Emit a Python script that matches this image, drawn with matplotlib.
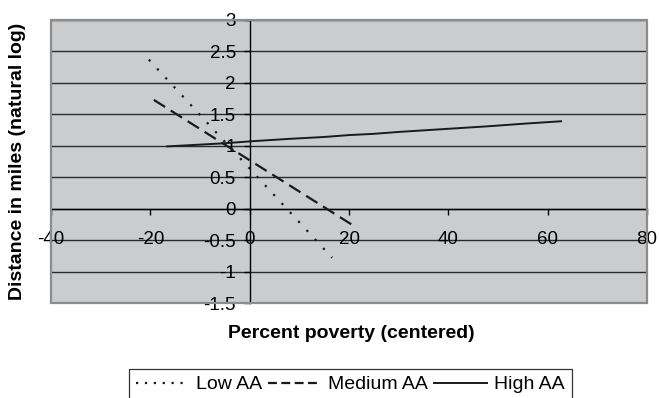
import matplotlib
matplotlib.use("Agg")
import matplotlib.pyplot as plt
from matplotlib.patches import Rectangle

plt.rcParams['font.family'] = ['Liberation Sans', 'DejaVu Sans']

# Data
low_x = [-20.3, 16.6]
low_y = [2.37, -0.78]
med_x = [-19.3, 20.9]
med_y = [1.73, -0.27]
high_x = [-16.6, -5, 0, 8, 15, 20, 25, 30, 40, 48, 55, 62.7]
high_y = [0.99, 1.04, 1.07, 1.11, 1.14, 1.17, 1.19, 1.22, 1.27, 1.31, 1.35, 1.39]
labels = ["Low AA", "Medium AA", "High AA"]
xticks = [-40, -20, 0, 20, 40, 60, 80]
yticks = [-1.5, -1, -0.5, 0, 0.5, 1, 1.5, 2, 2.5, 3]
ytick_labels = ["-1.5", "-1", "-0.5", "0", "0.5", "1", "1.5", "2", "2.5", "3"]

fig = plt.figure(figsize=(6.59, 3.98), dpi=100)
W, H = 659, 398
left, right, top, bottom = 51, 647, 20, 303
ax = fig.add_axes([left / W, 1 - bottom / H, (right - left) / W, (bottom - top) / H])
ax.set_facecolor('#cbcccd')
ax.set_xlim(-40, 80)
ax.set_ylim(-1.5, 3)

for y in yticks:
    ax.axhline(y, color='#2a2a2a', lw=1.0, zorder=1)

ax.spines['top'].set_visible(False)
ax.spines['right'].set_visible(False)
ax.spines['left'].set_position(('data', 0))
ax.spines['bottom'].set_position(('data', 0))
ax.spines['left'].set_color('black')
ax.spines['bottom'].set_color('black')
ax.spines['left'].set_linewidth(1.0)
ax.spines['bottom'].set_linewidth(1.0)
ax.spines['left'].set_zorder(2)
ax.spines['bottom'].set_zorder(2)

ax.add_patch(Rectangle((0, 0), 1, 1, transform=ax.transAxes, fill=False,
                       edgecolor='#8c8c8c', lw=1.6, zorder=5, clip_on=False))

ax.set_xticks(xticks)
ax.set_xticklabels([str(v) for v in xticks])
ax.set_yticks(yticks)
ax.set_yticklabels(ytick_labels)
ax.tick_params(axis='x', direction='out', length=4, width=1, pad=12, labelsize=13.5, colors='black')
ax.tick_params(axis='y', direction='out', length=4, width=1, pad=6, labelsize=13.5, colors='black')

l1, = ax.plot(low_x, low_y, color='#1a1a1a', lw=1.6, linestyle=(0, (1, 4.5)), label=labels[0], zorder=3)
l2, = ax.plot(med_x, med_y, color='#1a1a1a', lw=1.6, linestyle=(0, (6, 3)), label=labels[1], zorder=3)
l3, = ax.plot(high_x, high_y, color='#1a1a1a', lw=1.4, linestyle='-', label=labels[2], zorder=3)

fig.text(351 / W, 1 - 333 / H, "Percent poverty (centered)", ha='center', va='center',
         fontsize=14, fontweight='bold')
fig.text(18 / W, 1 - 161 / H, "Distance in miles (natural log)", ha='center', va='center',
         rotation=90, fontsize=14, fontweight='bold')

leg = fig.legend(handles=[l1, l2, l3], loc='upper center', bbox_to_anchor=(350.5 / W, 1 - 369 / H),
                 ncol=3, frameon=True, fancybox=False, fontsize=14, handlelength=2.7,
                 handletextpad=0.4, columnspacing=0.3, borderpad=0.35, borderaxespad=0)
leg.get_frame().set_edgecolor('black')
leg.get_frame().set_linewidth(0.9)
lh = leg.get_lines()
lh[0].set_linestyle((0, (1, 3)))
lh[1].set_linestyle((0, (4, 2)))

fig.savefig('out.png', dpi=100)
